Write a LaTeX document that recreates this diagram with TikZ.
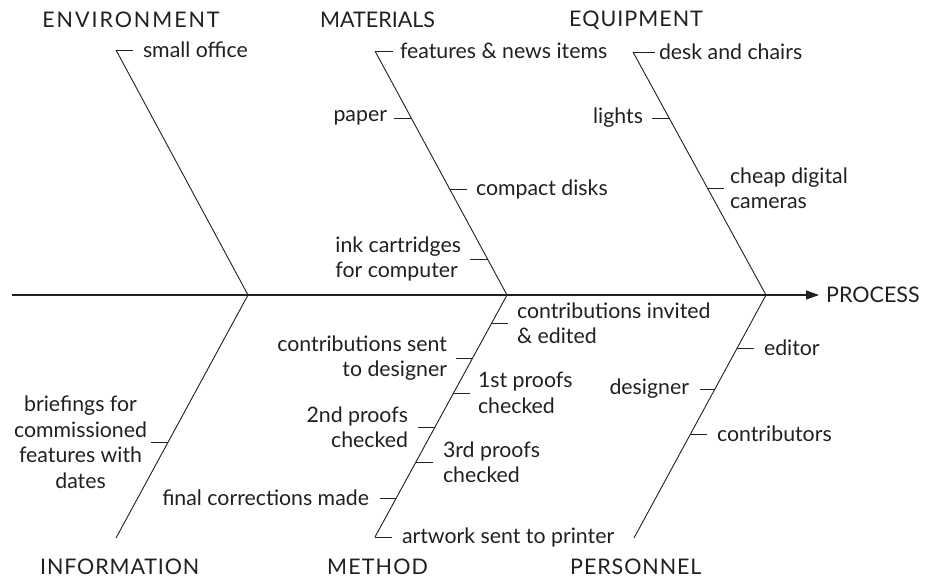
\documentclass[tikz,border=0pt]{standalone}
\usepackage{fontspec}
\setmainfont{Lato}
\usetikzlibrary{arrows.meta}
\definecolor{ink}{HTML}{231F20}
\newcommand\mycatfont{\fontsize{21.5}{25}\selectfont}
\begin{document}
\begin{tikzpicture}[x=1pt,y=-1pt,
  bone/.style={line width=0.9pt, draw=ink},
  spine/.style={line width=1.1pt, draw=ink},
  lab/.style={font=\fontsize{21.3}{25.5}\selectfont, text=ink, inner sep=0pt},
  itemR/.style={lab, anchor=west, outer sep=9pt, align=left},
  itemL/.style={lab, anchor=east, outer sep=9pt, align=right},
  cat/.style={lab, font=\mycatfont\addfontfeatures{LetterSpace=#1}},
  cat/.default=0
]
\useasboundingbox (0,0) rectangle (934,582);

% spine
\coordinate (s0) at (12,295);
\node[cat, anchor=west] (process) at (826,295) {PROCESS};
\draw[spine, shorten >=7pt, -{Triangle[length=13pt,width=9pt]}] (s0) -- (process.west);

% junctions, heads, tails
\coordinate (j1) at (248,295);
\coordinate (j2) at (507,295);
\coordinate (j3) at (766,295);
\coordinate (envH) at (116,50);
\coordinate (matH) at (375,51);
\coordinate (eqH) at (633,52);
\coordinate (infT) at (116,538);
\coordinate (metT) at (375,537);
\coordinate (perT) at (634,538);

\draw[bone] (envH) -- (j1);
\draw[bone] (matH) -- (j2);
\draw[bone] (eqH) -- (j3);
\draw[bone] (j1) -- (infT);
\draw[bone] (j2) -- (metT);
\draw[bone] (j3) -- (perT);

% category labels
\node[cat=9] (env) at (131,20) {ENVIRONMENT};
\node[cat=0, anchor=west] (mat) at (320,20) {MATERIALS};
\node[cat=4.7, anchor=west] (equ) at (569,20) {EQUIPMENT};
\node[cat=4, anchor=west] (inf) at (40,567) {INFORMATION};
\node[cat=5.3, anchor=west] (met) at (327,567) {METHOD};
\node[cat=4.2, anchor=west] (per) at (570,567) {PERSONNEL};

% environment
\node[itemR, outer sep=10pt] (office) at (133,50) {small office};
\draw[bone] (envH) -- (office.west);

% materials
\node[itemR, outer sep=7pt] (feat) at (393,51) {features \& news items};
\draw[bone] (matH) -- (feat.west);
\coordinate (mp1) at (411.2,118);
\node[itemL, outer sep=7pt] (paper) at (394,118) {paper};
\draw[bone] (mp1) -- (paper.east);
\coordinate (mp2) at (449.7,189);
\node[itemR] (cd) at (467,189) {compact disks};
\draw[bone] (mp2) -- (cd.west);
\coordinate (mp3) at (487.6,259);
\node[itemL, align=left] (ink) at (470,259) {ink cartridges\\for computer};
\draw[bone] (mp3) -- (ink.east);

% equipment
\node[itemR, outer sep=4pt] (desk) at (655,52) {desk and chairs};
\draw[bone] (eqH) -- (desk.west);
\coordinate (ep1) at (669.1,118);
\node[itemL] (lights) at (652,118) {lights};
\draw[bone] (ep1) -- (lights.east);
\coordinate (ep2) at (707.4,188);
\node[itemR, outer sep=6pt] (cam) at (724,188) {cheap digital\\cameras};
\draw[bone] (ep2) -- (cam.west);

% information
\coordinate (ip1) at (168.2,442);
\node[itemL, align=center, outer sep=4pt] (brief) at (151,442) {briefings for\\commissioned\\features with\\dates};
\draw[bone] (ip1) -- (brief.east);

% method
\coordinate (mm1) at (491.7,323);
\node[itemR] (invited) at (508,323) {contributions invited\\\& edited};
\draw[bone] (mm1) -- (invited.west);
\coordinate (mm2) at (472.6,358);
\node[itemL] (sent) at (456,358) {contributions sent\\to designer};
\draw[bone] (mm2) -- (sent.east);
\coordinate (mm3) at (453.5,393);
\node[itemR, outer sep=8pt] (first) at (470,393) {1st proofs\\checked};
\draw[bone] (mm3) -- (first.west);
\coordinate (mm4) at (435.0,427);
\node[itemL, outer sep=10pt] (second) at (418,427) {2nd proofs\\checked};
\draw[bone] (mm4) -- (second.east);
\coordinate (mm5) at (415.9,462);
\node[itemR, outer sep=10pt] (third) at (433,462) {3rd proofs\\checked};
\draw[bone] (mm5) -- (third.west);
\coordinate (mm6) at (396.3,498);
\node[itemL, outer sep=11pt] (final) at (380,498) {final corrections made};
\draw[bone] (mm6) -- (final.east);
\node[itemR, outer sep=10pt] (art) at (392,537) {artwork sent to printer};
\draw[bone] (metT) -- (art.west);

% personnel
\coordinate (pp1) at (737.2,348);
\node[itemR, outer sep=10pt] (editor) at (754,348) {editor};
\draw[bone] (pp1) -- (editor.west);
\coordinate (pp2) at (714.9,389);
\node[itemL, outer sep=11pt] (designer) at (700,389) {designer};
\draw[bone] (pp2) -- (designer.east);
\coordinate (pp3) at (690.5,434);
\node[itemR, outer sep=10pt] (contrib) at (707,434) {contributors};
\draw[bone] (pp3) -- (contrib.west);
\end{tikzpicture}
\end{document}
